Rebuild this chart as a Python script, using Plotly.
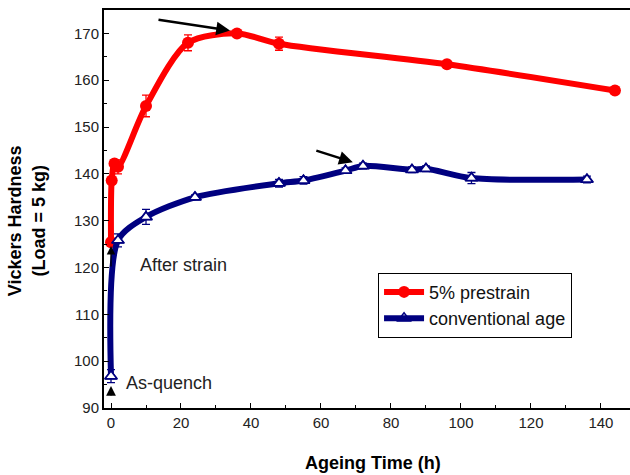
import plotly.graph_objects as go

# Data
red_t = [0, 0.2, 1, 2, 10, 22, 36, 48, 96, 144]
red_hv = [125.4, 138.6, 142.2, 141.5, 154.5, 168.0, 170.0, 167.8, 163.4, 157.8]
red_err = [0.8, 0.5, 0.8, 1.5, 2.3, 1.7, 0.4, 1.4, 0.3, 0.3]

blue_t = [0, 2, 10, 24, 48, 55, 67, 72, 86, 90, 103, 136]
blue_hv = [96.8, 125.8, 130.8, 135.0, 138.0, 138.6, 140.7, 141.7, 140.9, 141.1, 139.1, 138.8]
blue_err = [1.4, 1.4, 1.6, 0.5, 0.8, 0.8, 0.6, 0.6, 0.6, 0.6, 1.2, 0.7]

x_ticks = [0, 20, 40, 60, 80, 100, 120, 140]
y_ticks = [90, 100, 110, 120, 130, 140, 150, 160, 170]

RED = "#ff0000"
NAVY = "#000080"
FONT = "Arial, Liberation Sans, sans-serif"

fig = go.Figure()
fig.add_trace(go.Scatter(
    x=red_t, y=red_hv, name="5% prestrain", mode="lines+markers",
    line=dict(color=RED, width=6, shape="spline", smoothing=0.8),
    marker=dict(symbol="circle", size=12, color=RED),
    error_y=dict(type="data", array=red_err, color=RED, thickness=1.3, width=4),
))
fig.add_trace(go.Scatter(
    x=blue_t, y=blue_hv, name="conventional age", mode="lines+markers",
    line=dict(color=NAVY, width=6, shape="spline", smoothing=0.8),
    marker=dict(symbol="triangle-up-open", size=11, color=NAVY, line=dict(width=1.5, color=NAVY)),
    error_y=dict(type="data", array=blue_err, color=NAVY, thickness=1.3, width=4),
))
# white fill for triangles
fig.add_trace(go.Scatter(
    x=blue_t, y=blue_hv, mode="markers", showlegend=False, hoverinfo="skip",
    marker=dict(symbol="triangle-up", size=10, color="white", line=dict(width=1.5, color=NAVY)),
))

fig.update_layout(
    width=630, height=475,
    margin=dict(l=104, r=0, t=10, b=67),
    paper_bgcolor="white", plot_bgcolor="white",
    font=dict(family=FONT, size=15, color="#222"),
    showlegend=True,
    legend=dict(
        x=0.521, y=0.34, xanchor="left", yanchor="top",
        bgcolor="white", bordercolor="black", borderwidth=1,
        font=dict(family=FONT, size=18, color="#111"),
        tracegroupgap=0, itemwidth=40,
    ),
    xaxis=dict(
        range=[-2, 148.3], tickvals=x_ticks, ticks="inside", ticklen=5,
        tickcolor="black", showline=True, linecolor="black", linewidth=2,
        mirror=True, showgrid=False, zeroline=False,
        minor=dict(dtick=10, ticks="inside", ticklen=3, tickcolor="black"),
        tickfont=dict(family=FONT, size=15, color="#222"),
    ),
    yaxis=dict(
        range=[90, 175], tickvals=y_ticks, ticks="inside", ticklen=5,
        tickcolor="black", showline=True, linecolor="black", linewidth=2,
        showgrid=False, zeroline=False,
        minor=dict(dtick=5, ticks="inside", ticklen=3, tickcolor="black"),
        tickfont=dict(family=FONT, size=15, color="#222"),
    ),
)

anns = [
    dict(x=34, y=170.6, ax=-73, ay=-11),
    dict(x=69.1, y=142.5, ax=-38, ay=-12),
]
for a in anns:
    fig.add_annotation(x=a["x"], y=a["y"], ax=a["ax"], ay=a["ay"], xref="x", yref="y",
                       axref="pixel", ayref="pixel", showarrow=True, arrowhead=2,
                       arrowsize=1.1, arrowwidth=2.5, arrowcolor="black", text="")
fig.add_annotation(x=0, y=124.6, ax=0, ay=22, showarrow=True, arrowhead=2, arrowsize=1.3,
                   arrowwidth=1.3, arrowcolor="black", text="")
fig.add_annotation(x=0, y=94.7, ax=0, ay=11, showarrow=True, arrowhead=2, arrowsize=1.5,
                   arrowwidth=1.3, arrowcolor="black", text="")
fig.add_annotation(x=7.7, y=120.5, text="After strain", showarrow=False, xanchor="left",
                   yanchor="middle", font=dict(family=FONT, size=18, color="#222"))
fig.add_annotation(x=3.7, y=95.3, text="As-quench", showarrow=False, xanchor="left",
                   yanchor="middle", font=dict(family=FONT, size=18, color="#222"))

fig.add_annotation(xref="paper", yref="paper", x=-0.146, y=0.47, textangle=-90,
                   text="<b>Vickers Hardness<br>(Load = 5 kg)</b>", showarrow=False,
                   xanchor="center", yanchor="middle",
                   font=dict(family=FONT, size=18, color="black"))
fig.add_annotation(xref="paper", yref="paper", x=0.512, y=-0.138,
                   text="<b>Ageing Time (h)</b>", showarrow=False,
                   xanchor="center", yanchor="middle",
                   font=dict(family=FONT, size=18, color="black"))

fig.write_html("out.html", config={"displayModeBar": False},
               post_script="document.body.style.margin='0';document.body.style.overflow='hidden';")
